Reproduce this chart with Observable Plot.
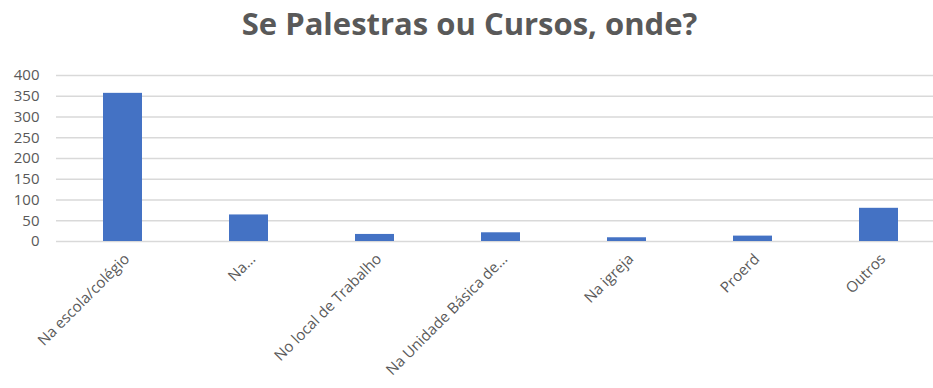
<!DOCTYPE html>
<html>
<head>
<meta charset="utf-8">
<script src="https://cdn.jsdelivr.net/npm/d3@7"></script>
<script src="https://cdn.jsdelivr.net/npm/@observablehq/plot@0.6"></script>
<style>
  html, body { margin: 0; padding: 0; background: #fff; overflow: hidden; width: 933px; height: 388px; }
  #title { height: 58px; box-sizing: border-box; padding-top: 0px; text-align: center; padding-left: 6px;
    font-family: "Open Sans", sans-serif; font-weight: 700; font-size: 31px; line-height: 46px; color: #595959; white-space: nowrap; }
  #chart svg { display: block; max-width: none !important; }
</style>
</head>
<body>
<div id="title">Se Palestras ou Cursos, onde?</div>
<div id="chart"></div>
<script>
const categories = ["Na escola/colégio", "Na...", "No local de Trabalho", "Na Unidade Básica de...", "Na igreja", "Proerd", "Outros"];
const counts = [357, 64, 17, 21, 9, 13, 80];
const yTicks = [0, 50, 100, 150, 200, 250, 300, 350, 400];

const data = categories.map((c, i) => ({category: c, count: counts[i]}));

const chart = Plot.plot({
  width: 945,
  height: 330,
  marginLeft: 56,
  marginRight: 1,
  marginTop: 17,
  marginBottom: 147,
  style: {fontFamily: "'Open Sans', sans-serif", fontSize: "15px", color: "#595959", background: "#fff"},
  x: {domain: categories, paddingInner: 0.692, paddingOuter: 0.346, label: null},
  y: {domain: [0, 400], label: null},
  marks: [
    Plot.ruleY(yTicks, {stroke: "#d9d9d9", strokeWidth: 1.3}),
    Plot.barY(data, {x: "category", y: "count", fill: "#4472c4"}),
    Plot.axisY({ticks: yTicks, tickSize: 0, tickPadding: 17, label: null, fill: "#595959"}),
    Plot.axisX({tickSize: 0, tickPadding: 15, tickRotate: -45, label: null, fill: "#595959", fontSize: 15, dx: 4})
  ]
});
document.getElementById("chart").appendChild(chart);
</script>
</body>
</html>
